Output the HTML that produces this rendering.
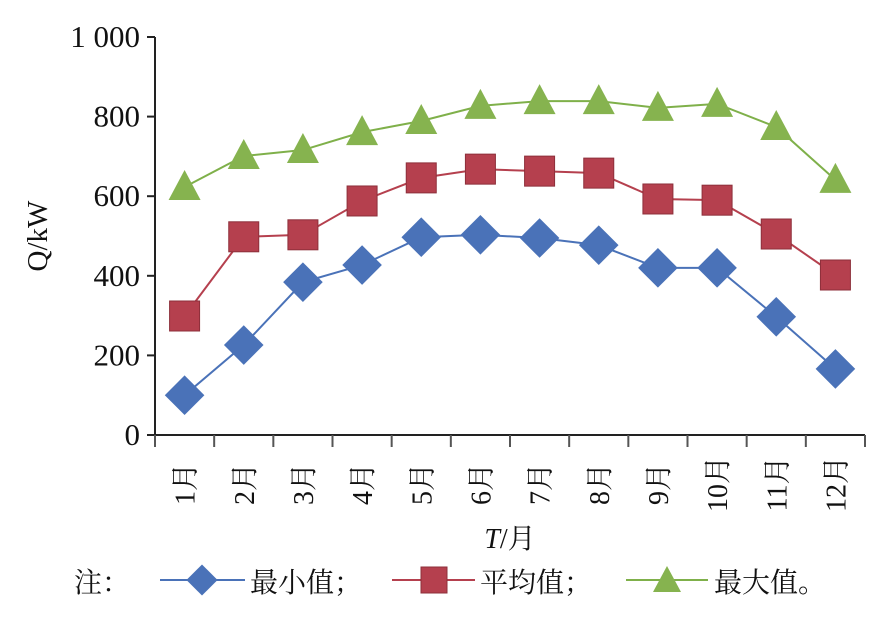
<!DOCTYPE html>
<html><head><meta charset="utf-8"><style>
html,body{margin:0;padding:0;background:#fff;}
svg text{font-family:"Liberation Serif","Noto Serif CJK SC",serif;fill:#111;}
</style></head><body>
<svg id="chart" width="886" height="618" xmlns="http://www.w3.org/2000/svg">
<g id="axes"></g><g id="series"></g>
<text x="0" y="0" font-size="29" text-anchor="middle" transform="translate(47,236) rotate(-90)">Q/kW</text>
<text x="510" y="548" font-size="28" text-anchor="middle"><tspan font-style="italic">T</tspan>/月</text>
<g>
<text x="74" y="592" font-size="28">注：</text>
<line x1="160" y1="580" x2="245" y2="580" stroke="#4a72b8" stroke-width="2"/>
<rect x="191" y="569" width="22" height="22" fill="#4a72b8" transform="rotate(45 202 580)"/>
<text x="250" y="592" font-size="28">最小值；</text>
<line x1="392" y1="580" x2="475" y2="580" stroke="#b5404e" stroke-width="2"/>
<rect x="421" y="567" width="26" height="26" fill="#b5404e" stroke="#8d2f3a"/>
<text x="480" y="592" font-size="28">平均值；</text>
<line x1="626" y1="580" x2="708" y2="580" stroke="#7fb04a" stroke-width="2"/>
<polygon points="667,566 681,592 653,592" fill="#86b34f"/>
<text x="714" y="592" font-size="28">最大值。</text>
</g>
</svg>
<script>
const categories=["1月","2月","3月","4月","5月","6月","7月","8月","9月","10月","11月","12月"];
const minVals=[100,226,384,427,497,503,495,477,420,420,297,166];
const avgVals=[299,498,503,588,646,668,663,658,593,590,505,402];
const maxVals=[623,701,716,761,789,827,839,839,822,832,774,641];
const yTicks=[0,200,400,600,800,1000];
const yTickLabels=["0","200","400","600","800","1 000"];
const NS="http://www.w3.org/2000/svg";
const x0=155,x1=865,yBase=435,yTop=37;
const bw=(x1-x0)/categories.length;
const xs=i=>x0+bw*(i+0.5);
const ys=v=>yBase-(v/1000)*(yBase-yTop);
function mk(tag,attrs,parent){const e=document.createElementNS(NS,tag);for(const k in attrs)e.setAttribute(k,attrs[k]);parent.appendChild(e);return e;}
const axes=document.getElementById('axes'),ser=document.getElementById('series');
let l=mk('line',{x1:x0,y1:yTop,x2:x0,y2:yBase,stroke:'#222','stroke-width':2},axes);


l=mk('line',{x1:x0-8,y1:yBase,x2:x1,y2:yBase,stroke:'#222','stroke-width':2},axes);


yTicks.forEach((v,i)=>{
 mk('line',{x1:x0-8,y1:ys(v),x2:x0,y2:ys(v),stroke:'#222','stroke-width':2},axes);
 const t=mk('text',{x:x0-15,y:ys(v)+10,'font-size':31,'text-anchor':'end'},axes);
 t.textContent=yTickLabels[i];
 
 
});
for(let i=0;i<=categories.length;i++){mk('line',{x1:x0+bw*i,y1:yBase,x2:x0+bw*i,y2:yBase+12,stroke:'#555','stroke-width':2},axes);}
categories.forEach((c,i)=>{
 const t=mk('text',{x:0,y:0,'font-size':28,'text-anchor':'middle',transform:`translate(${xs(i)+10},484) rotate(-90)`},axes);
 t.textContent=c;
 
 
});
function series(vals,color,fill,shape,name){
 const g=mk('g',{},ser);
 
 
 mk('polyline',{points:vals.map((v,i)=>xs(i)+','+ys(v)).join(' '),fill:'none',stroke:color,'stroke-width':2},g);
 vals.forEach((v,i)=>{
  const x=xs(i),y=ys(v);let m;
  if(shape==='d')m=mk('rect',{x:x-14,y:y-14,width:28,height:28,fill:fill,transform:`rotate(45 ${x} ${y})`},g);
  else if(shape==='s')m=mk('rect',{x:x-15,y:y-15,width:30,height:30,fill:fill,stroke:'#8d2f3a'},g);
  else m=mk('polygon',{points:`${x},${y-17} ${x+16},${y+13} ${x-16},${y+13}`,fill:fill},g);
  
  
 });
}
series(maxVals,'#7fb04a','#86b34f','t','series-max');
series(avgVals,'#b5404e','#b5404e','s','series-avg');
series(minVals,'#4a72b8','#4a72b8','d','series-min');
</script>
</body></html>
